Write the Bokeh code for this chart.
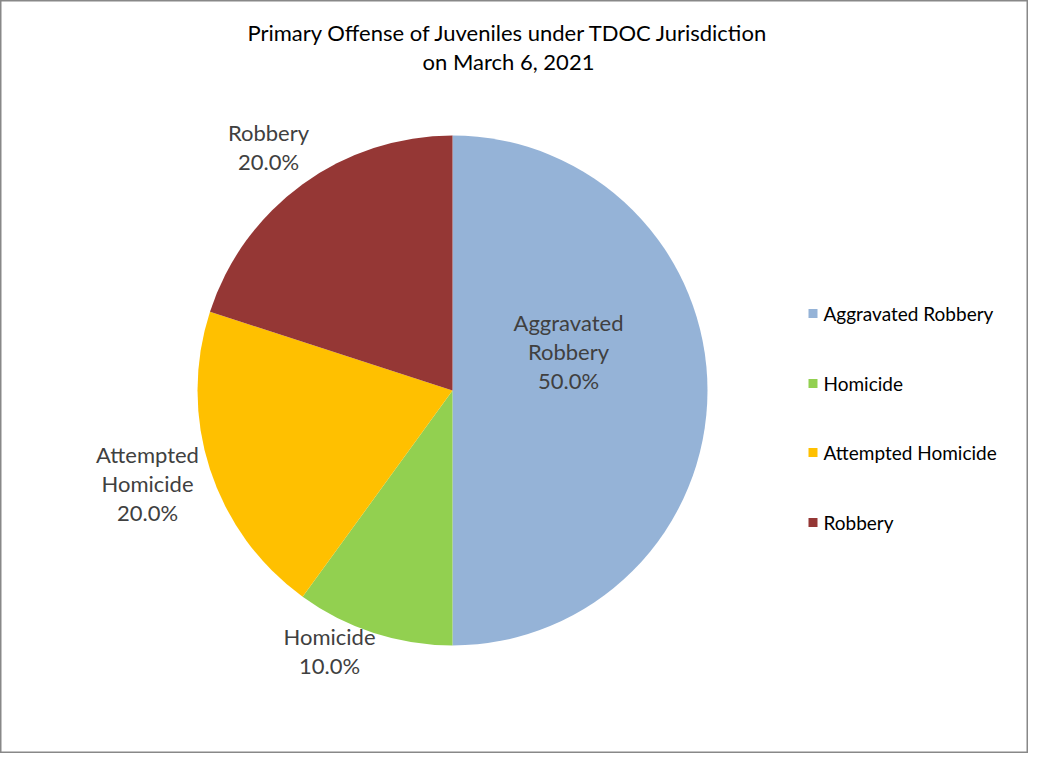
import math
from bokeh.plotting import figure
from bokeh.models import Range1d, ColumnDataSource
from bokeh.embed import file_html
from bokeh.resources import INLINE
from bokeh.core.properties import value

# ---- data ----
categories = ["Aggravated Robbery", "Homicide", "Attempted Homicide", "Robbery"]
percents = [50.0, 10.0, 20.0, 20.0]
colors = ["#95B3D7", "#92D050", "#FFC000", "#953735"]
label_names = [["Aggravated", "Robbery"], ["Homicide"], ["Attempted", "Homicide"], ["Robbery"]]
title_lines = ["Primary Offense of Juveniles under TDOC Jurisdiction", "on March 6, 2021"]

# ---- layout (canvas pixels, y down) ----
W, H = 1028, 753
FONT = "Lato"
pie_cx, pie_cy, R = 452, 390, 255
label_offsets = [(116, -39), (-123, 260), (-305, 93), (-184, -244)]
label_pitch = 29
title_cx, title_y0, title_pitch = 508, 32, 29
leg_sq_x, leg_txt_x, leg_y = 812.5, 823, [313, 383, 452, 522]


def Y(cy):
    return H - cy


p = figure(width=W, height=H, output_backend="svg", toolbar_location=None,
           x_range=Range1d(0, W), y_range=Range1d(0, H),
           x_axis_type=None, y_axis_type=None, min_border=0,
           background_fill_color="white", border_fill_color="white")
p.grid.visible = False
p.outline_line_color = "#888888"
p.outline_line_width = 2

# wedges (clockwise from 12 o'clock)
total = sum(percents)
starts, ends = [], []
acc = 0.0
for v in percents:
    a0 = math.pi / 2 - acc / total * 2 * math.pi
    acc += v
    a1 = math.pi / 2 - acc / total * 2 * math.pi
    starts.append(a0)
    ends.append(a1)
src = ColumnDataSource(dict(cat=categories, val=percents, color=colors, start=starts, end=ends))
p.wedge(x=pie_cx, y=Y(pie_cy), radius=R, start_angle="start", end_angle="end",
        direction="clock", fill_color="color", line_color=None, source=src)

# data labels
lx, ly, lt = [], [], []
for names, v, (dx, dy) in zip(label_names, percents, label_offsets):
    lines = names + [f"{v / total * 100:.1f}%"]
    n = len(lines)
    for i, t in enumerate(lines):
        lx.append(pie_cx + dx)
        ly.append(Y(pie_cy + dy + (i - (n - 1) / 2) * label_pitch))
        lt.append(t)
p.text(x=lx, y=ly, text=lt, text_align="center", text_baseline="middle",
       text_font=value(FONT), text_font_size="22px", text_color="#404040")

# title
p.text(x=[title_cx] * len(title_lines),
       y=[Y(title_y0 + i * title_pitch) for i in range(len(title_lines))],
       text=title_lines, text_align="center", text_baseline="middle",
       text_font=value(FONT), text_font_size="22px", text_color="#000000")

# legend
p.scatter(x=[leg_sq_x] * len(categories), y=[Y(v) for v in leg_y], marker="square",
          size=9, fill_color=colors, line_color=None)
p.text(x=[leg_txt_x] * len(categories), y=[Y(v) for v in leg_y], text=categories,
       text_align="left", text_baseline="middle",
       text_font=value(FONT), text_font_size="19px", text_color="#000000")

open("out.html", "w").write(file_html(p, INLINE))
